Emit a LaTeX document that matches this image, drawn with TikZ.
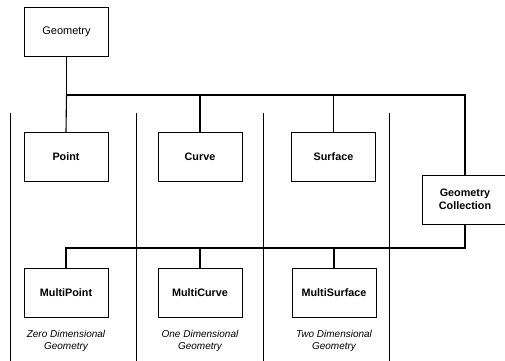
\documentclass[tikz,border=0pt]{standalone}
\usepackage{fontspec}
\setmainfont{Liberation Sans}
\begin{document}
\begin{tikzpicture}[x=1pt,y=-1pt,
  cls/.style={draw=black,line width=0.9pt,minimum width=84pt,minimum height=49pt,
    inner sep=0pt,font=\fontsize{10.8}{12.5}\selectfont\bfseries,align=center},
  link/.style={draw=black,line width=1.1pt},
  sep/.style={draw=black,line width=0.9pt},
  note/.style={font=\fontsize{10}{12}\selectfont\itshape,align=center}]
\useasboundingbox (0,0) rectangle (505,360);

% class boxes
\node[cls,font=\fontsize{11}{13}\selectfont] (geom) at (66.5,32) {Geometry};
\node[cls] (point) at (66,157) {Point};
\node[cls] (curve) at (200,157) {Curve};
\node[cls] (surf)  at (333.5,157) {Surface};
\node[cls,minimum width=86pt] (coll) at (465,199.5) {Geometry\\Collection};
\node[cls] (mpoint) at (66,293) {MultiPoint};
\node[cls] (mcurve) at (200,293) {MultiCurve};
\node[cls] (msurf)  at (334,293) {MultiSurface};

% dimension notes
\node[note] (n0) at (66,341) {Zero Dimensional\\Geometry};
\node[note] (n1) at (200,341) {One Dimensional\\Geometry};
\node[note] (n2) at (334,341) {Two Dimensional\\Geometry};

% column separators
\coordinate (s1t) at (10,113);  \coordinate (s1b) at (10,362);
\coordinate (s2t) at (136,113); \coordinate (s2b) at (136,362);
\coordinate (s3t) at (263,113); \coordinate (s3b) at (263,362);
\coordinate (s4t) at (389,113); \coordinate (s4b) at (389,362);
\foreach \i in {1,...,4} \draw[sep] (s\i t) -- (s\i b);

% upper bus
\coordinate (ub) at (0,95);
\draw[link] (geom.south) -- (geom.south |- ub) -| (coll.north);
\draw[link] (curve.north) -- (curve.north |- ub);
\draw[link] (surf.north) -- (surf.north |- ub);
\draw[link] (geom.south |- ub) -- (point.north);

% lower bus
\coordinate (lb) at (0,248);
\draw[link] (coll.south) -- (coll.south |- lb) -| (mpoint.north);
\draw[link] (mcurve.north) -- (mcurve.north |- lb);
\draw[link] (msurf.north) -- (msurf.north |- lb);
\end{tikzpicture}
\end{document}
